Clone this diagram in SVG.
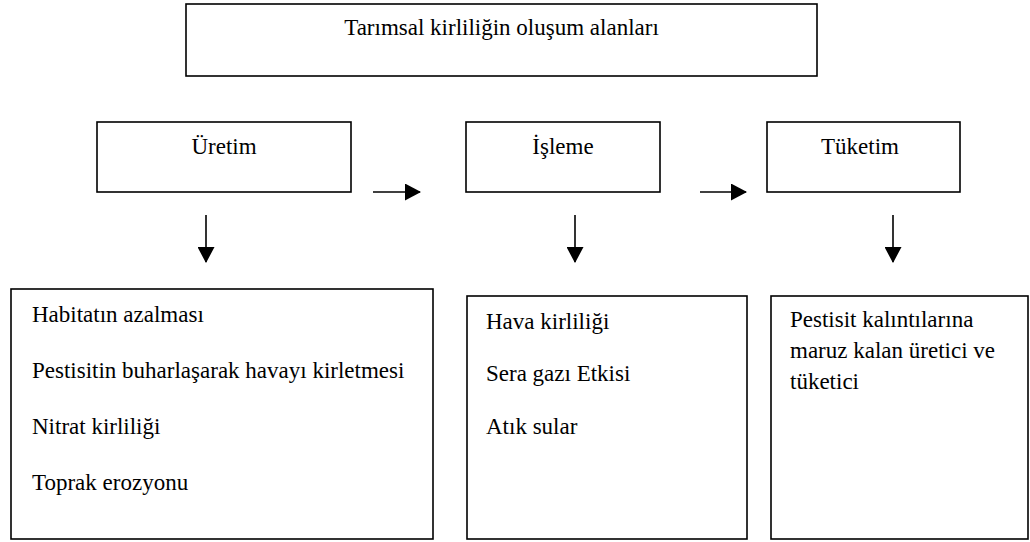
<svg xmlns="http://www.w3.org/2000/svg" width="1030" height="542" viewBox="0 0 1030 542">
<style>
.box{fill:#fff;stroke:#000;stroke-width:1.6}
.t{font-family:"Liberation Serif","Times New Roman",serif;font-size:23px;fill:#000}
.c{text-anchor:middle}
.conn{stroke:#000;stroke-width:1.6;fill:none}
</style>
<defs>
<marker id="ah" markerWidth="16" markerHeight="17" refX="15" refY="8.5" orient="auto" markerUnits="userSpaceOnUse">
<path d="M0,0 L16,8.5 L0,17 Z" fill="#000"/>
</marker>
</defs>
<rect width="1030" height="542" fill="#fff"/>
<g id="title">
<rect class="box" x="186" y="4" width="631" height="72"/>
<text class="t c" x="501.5" y="35">Tarımsal kirliliğin oluşum alanları</text>
</g>
<g id="uretim">
<rect class="box" x="97" y="122" width="254" height="70"/>
<text class="t c" x="224" y="154">Üretim</text>
</g>
<g id="isleme">
<rect class="box" x="466" y="122" width="194" height="70"/>
<text class="t c" x="563" y="154">İşleme</text>
</g>
<g id="tuketim">
<rect class="box" x="767" y="122" width="193" height="70"/>
<text class="t c" x="860" y="154">Tüketim</text>
</g>
<g id="uretim-etki">
<rect class="box" x="11" y="289" width="422" height="250"/>
<text class="t" x="32" y="322">Habitatın azalması</text>
<text class="t" x="32" y="378">Pestisitin buharlaşarak havayı kirletmesi</text>
<text class="t" x="32" y="434">Nitrat kirliliği</text>
<text class="t" x="32" y="490">Toprak erozyonu</text>
</g>
<g id="isleme-etki">
<rect class="box" x="467" y="296" width="280" height="243"/>
<text class="t" x="486" y="329">Hava kirliliği</text>
<text class="t" x="486" y="381">Sera gazı Etkisi</text>
<text class="t" x="486" y="434">Atık sular</text>
</g>
<g id="tuketim-etki">
<rect class="box" x="771" y="296" width="257" height="243"/>
<text class="t" x="790" y="327">Pestisit kalıntılarına</text>
<text class="t" x="790" y="358">maruz kalan üretici ve</text>
<text class="t" x="790" y="389">tüketici</text>
</g>
<g id="connectors">
<line class="conn" x1="373" y1="192" x2="420" y2="192" marker-end="url(#ah)"/>
<line class="conn" x1="700" y1="192" x2="746" y2="192" marker-end="url(#ah)"/>
<line class="conn" x1="206" y1="215" x2="206" y2="262" marker-end="url(#ah)"/>
<line class="conn" x1="575" y1="215" x2="575" y2="262" marker-end="url(#ah)"/>
<line class="conn" x1="893" y1="215" x2="893" y2="262" marker-end="url(#ah)"/>
</g>
</svg>
